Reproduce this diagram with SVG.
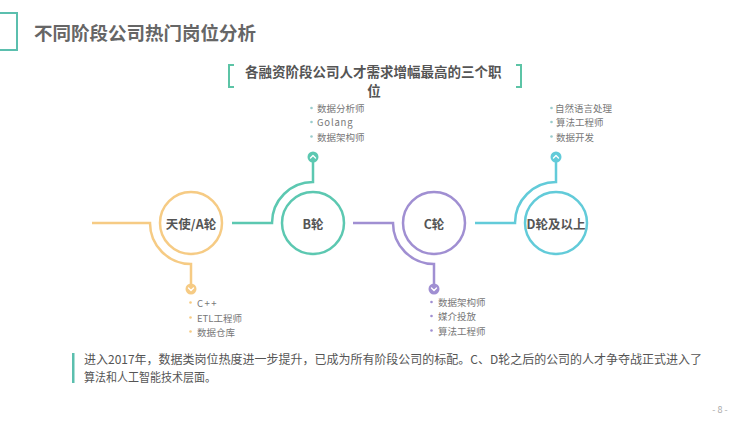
<svg xmlns="http://www.w3.org/2000/svg" width="750" height="422" viewBox="0 0 750 422">
<style>
.t{font-family:"Noto Sans CJK SC","Liberation Sans",sans-serif;}
.title{font-size:18.5px;font-weight:bold;fill:#666;}
.sub{font-size:13.5px;font-weight:bold;fill:#555;}
.node{font-size:12.5px;font-weight:bold;fill:#555;text-anchor:middle;dominant-baseline:central;}
.li{font-size:9.5px;fill:#777;dominant-baseline:central;}
.body{font-size:12px;fill:#555;}
.ring{fill:#fff;stroke-width:2.5;}
.line{fill:none;stroke-width:2.5;}
.chev{fill:none;stroke:#fff;stroke-width:1.4;stroke-linecap:round;stroke-linejoin:round;}
</style>
<rect width="750" height="422" fill="#fff"/>
<rect x="-4" y="13" width="21" height="37" fill="none" stroke="#5bbfae" stroke-width="2"/>
<text class="t title" x="34" y="40">不同阶段公司热门岗位分析</text>
<g id="heading">
<path d="M234,65 H229 V87 H234" fill="none" stroke="#5cc4a6" stroke-width="2"/>
<path d="M516,65 H521 V87 H516" fill="none" stroke="#5cc4a6" stroke-width="2"/>
<text class="t sub" x="245" y="76.5">各融资阶段公司人才需求增幅最高的三个职</text>
<text class="t sub" x="374" y="96" text-anchor="middle">位</text>
</g>
<g id="connectors">
<path class="line" stroke="#f6cb84" d="M92,223 H150 A41,41 0 0 0 191,264 V284"/>
<path class="line" stroke="#5cc8b1" d="M232,223 H272 A41,41 0 0 1 313,182 V162"/>
<path class="line" stroke="#a08fd2" d="M353,223 H393 A41,41 0 0 0 434,264 V284"/>
<path class="line" stroke="#62cbd9" d="M475,223 H515 A41,41 0 0 1 556,182 V162"/>
<circle cx="191" cy="289" r="5.5" fill="#f6cb84"/>
<path class="chev" d="M188.5,288 L191,290.5 L193.5,288"/>
<circle cx="313" cy="157" r="5.5" fill="#5cc8b1"/>
<path class="chev" d="M310.5,158 L313,155.5 L315.5,158"/>
<circle cx="434" cy="289" r="5.5" fill="#a08fd2"/>
<path class="chev" d="M431.5,288 L434,290.5 L436.5,288"/>
<circle cx="556" cy="157" r="5.5" fill="#62cbd9"/>
<path class="chev" d="M553.5,158 L556,155.5 L558.5,158"/>
</g>
<g id="nodeA">
<circle class="ring" cx="191" cy="223" r="31" stroke="#f6cb84"/>
<text class="t node" x="191" y="223">天使/A轮</text>
</g>
<g id="nodeB">
<circle class="ring" cx="313" cy="223" r="31" stroke="#5cc8b1"/>
<text class="t node" x="313" y="223">B轮</text>
</g>
<g id="nodeC">
<circle class="ring" cx="434" cy="223" r="31" stroke="#a08fd2"/>
<text class="t node" x="434" y="223">C轮</text>
</g>
<g id="nodeD">
<circle class="ring" cx="556" cy="223" r="31" stroke="#62cbd9"/>
<text class="t node" x="556" y="223">D轮及以上</text>
</g>
<g id="listB">
<circle cx="311.5" cy="108" r="1.3" fill="#9cc"/>
<circle cx="311.5" cy="122" r="1.3" fill="#9cc"/>
<circle cx="311.5" cy="136.5" r="1.3" fill="#9cc"/>
<text class="t li" x="317" y="108">数据分析师</text>
<text class="t li" x="317" y="122" letter-spacing="0.8">Golang</text>
<text class="t li" x="317" y="136.5">数据架构师</text>
</g>
<g id="listD">
<circle cx="551.5" cy="108" r="1.3" fill="#9cc"/>
<circle cx="551.5" cy="122" r="1.3" fill="#9cc"/>
<circle cx="551.5" cy="136.5" r="1.3" fill="#9cc"/>
<text class="t li" x="555" y="108">自然语言处理</text>
<text class="t li" x="556" y="122">算法工程师</text>
<text class="t li" x="556" y="136.5">数据开发</text>
</g>
<g id="listA">
<circle cx="190.5" cy="302.5" r="1.3" fill="#f6cb84"/>
<circle cx="190.5" cy="317.5" r="1.3" fill="#f6cb84"/>
<circle cx="190.5" cy="331.5" r="1.3" fill="#f6cb84"/>
<text class="t li" x="197" y="302.5" letter-spacing="1.5">C++</text>
<text class="t li" x="197" y="317.5">ETL工程师</text>
<text class="t li" x="197" y="331.5">数据仓库</text>
</g>
<g id="listC">
<circle cx="431.5" cy="302" r="1.3" fill="#a08fd2"/>
<circle cx="431.5" cy="316" r="1.3" fill="#a08fd2"/>
<circle cx="431.5" cy="330.5" r="1.3" fill="#a08fd2"/>
<text class="t li" x="438" y="302">数据架构师</text>
<text class="t li" x="438" y="316">媒介投放</text>
<text class="t li" x="438" y="330.5">算法工程师</text>
</g>
<g id="summary">
<rect x="72" y="353" width="2.5" height="30" fill="#5bbfae"/>
<text class="t body" x="84" y="364" textLength="618" lengthAdjust="spacingAndGlyphs">进入2017年，数据类岗位热度进一步提升，已成为所有阶段公司的标配。C、D轮之后的公司的人才争夺战正式进入了</text>
<text class="t body" x="84" y="382" textLength="132" lengthAdjust="spacingAndGlyphs">算法和人工智能技术层面。</text>
</g>
<text class="t" x="720" y="413" font-size="9" fill="#aaa" text-anchor="middle">- 8 -</text>
</svg>
